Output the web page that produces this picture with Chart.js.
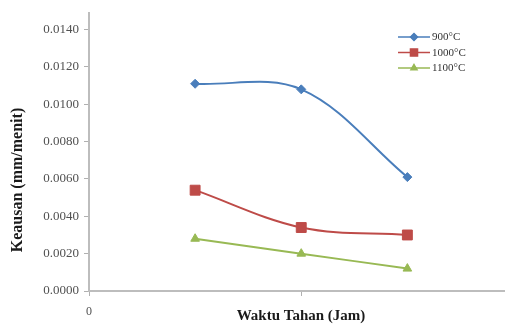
<!DOCTYPE html>
<html>
<head>
<meta charset="utf-8">
<script src="https://cdn.jsdelivr.net/npm/chart.js@4/dist/chart.umd.min.js"></script>
<style>
  html, body { margin: 0; padding: 0; background: #ffffff; overflow: hidden; }
  #wrap { width: 505px; height: 325px; position: relative; overflow: hidden; }
  #c { display: block; }
</style>
</head>
<body>
<div id="wrap"><canvas id="c" width="513" height="325"></canvas></div>
<script>
// Holding time positions on the x axis
const waktuTahan = [1, 2, 3];
// Wear rate (mm/menit) for each temperature
const keausan900 = [0.0111, 0.0108, 0.0061];
const keausan1000 = [0.0054, 0.0034, 0.0030];
const keausan1100 = [0.0028, 0.0020, 0.0012];
const seriesLabels = ['900°C', '1000°C', '1100°C'];
const yTickValues = [0, 0.002, 0.004, 0.006, 0.008, 0.010, 0.012, 0.014];
const xTickValues = [0, 2];
const xTickLabels = ['0', ''];
const yTitle = 'Keausan (mm/menit)';
const xTitle = 'Waktu Tahan (Jam)';

const SERIF = '"Liberation Serif", "Times New Roman", serif';

function points(values) {
  return values.map((v, i) => ({ x: waktuTahan[i], y: v }));
}

// Axis titles and the inline legend are painted after the datasets
const decorations = {
  id: 'decorations',
  afterDraw(chart) {
    const ctx = chart.ctx;
    ctx.save();
    ctx.fillStyle = '#1a1a1a';
    ctx.font = 'bold 15px ' + SERIF;
    ctx.textAlign = 'center';
    ctx.textBaseline = 'middle';
    ctx.fillText(xTitle, 301, 316);
    ctx.font = 'bold 16px ' + SERIF;
    ctx.translate(18, 180);
    ctx.rotate(-Math.PI / 2);
    ctx.fillText(yTitle, 0, 0);
    ctx.restore();

    // legend: short line with marker, then label
    ctx.save();
    ctx.font = '11px ' + SERIF;
    ctx.textBaseline = 'middle';
    ctx.textAlign = 'left';
    chart.data.datasets.forEach((ds, i) => {
      const y = 37 + i * 15.5;
      ctx.strokeStyle = ds.borderColor;
      ctx.lineWidth = 1.5;
      ctx.beginPath();
      ctx.moveTo(398, y);
      ctx.lineTo(430, y);
      ctx.stroke();
      Chart.helpers.drawPoint(ctx, {
        pointStyle: ds.pointStyle,
        radius: ds.legendRadius,
        borderWidth: 1,
        rotation: 0
      }, 414, y);
      ctx.fillStyle = ds.borderColor;
      ctx.strokeStyle = ds.borderColor;
      ctx.fill();
      ctx.fillStyle = '#333333';
      ctx.fillText(ds.label, 432, y + 0.5);
    });
    ctx.restore();
  }
};

const BLUE = '#4a7ebb';
const RED = '#be4b48';
const GREEN = '#98b954';

new Chart(document.getElementById('c'), {
  type: 'line',
  data: {
    datasets: [
      {
        label: seriesLabels[0], data: points(keausan900),
        borderColor: BLUE, backgroundColor: BLUE,
        pointStyle: 'rectRot', pointRadius: 4.5, legendRadius: 3.5
      },
      {
        label: seriesLabels[1], data: points(keausan1000),
        borderColor: RED, backgroundColor: RED,
        pointStyle: 'rect', pointRadius: 7, legendRadius: 5
      },
      {
        label: seriesLabels[2], data: points(keausan1100),
        borderColor: GREEN, backgroundColor: GREEN,
        pointStyle: 'triangle', pointRadius: 5, legendRadius: 3.5
      }
    ]
  },
  options: {
    responsive: false,
    animation: false,
    devicePixelRatio: 1,
    layout: { padding: { top: 12, right: 0, left: 0, bottom: 0 } },
    elements: {
      line: { borderWidth: 2, tension: 0.35, fill: false },
      point: { borderWidth: 1 }
    },
    plugins: {
      legend: { display: false },
      tooltip: { enabled: false }
    },
    scales: {
      x: {
        type: 'linear',
        min: 0,
        max: 3.92,
        afterBuildTicks(scale) {
          scale.ticks = xTickValues.map(v => ({ value: v }));
        },
        afterFit(scale) { scale.height = 34; },
        ticks: {
          padding: 9,
          maxRotation: 0,
          color: '#505050',
          font: { family: SERIF, size: 12 },
          callback(value) {
            const i = xTickValues.indexOf(value);
            return i >= 0 ? xTickLabels[i] : '';
          }
        },
        grid: {
          drawOnChartArea: false,
          drawTicks: true,
          tickLength: 5,
          color: '#b0b0b0'
        },
        border: { display: true, color: '#bdbdbd', width: 2 }
      },
      y: {
        min: 0,
        max: 0.0149,
        afterBuildTicks(scale) {
          scale.ticks = yTickValues.map(v => ({ value: v }));
        },
        afterFit(scale) { scale.width = 89; },
        ticks: {
          padding: 5,
          color: '#505050',
          font: { family: SERIF, size: 13 },
          callback(value) { return Number(value).toFixed(4); }
        },
        grid: {
          drawOnChartArea: false,
          drawTicks: true,
          tickLength: 5,
          color: '#b0b0b0'
        },
        border: { display: true, color: '#bdbdbd', width: 2 }
      }
    }
  },
  plugins: [decorations]
});
</script>
</body>
</html>
